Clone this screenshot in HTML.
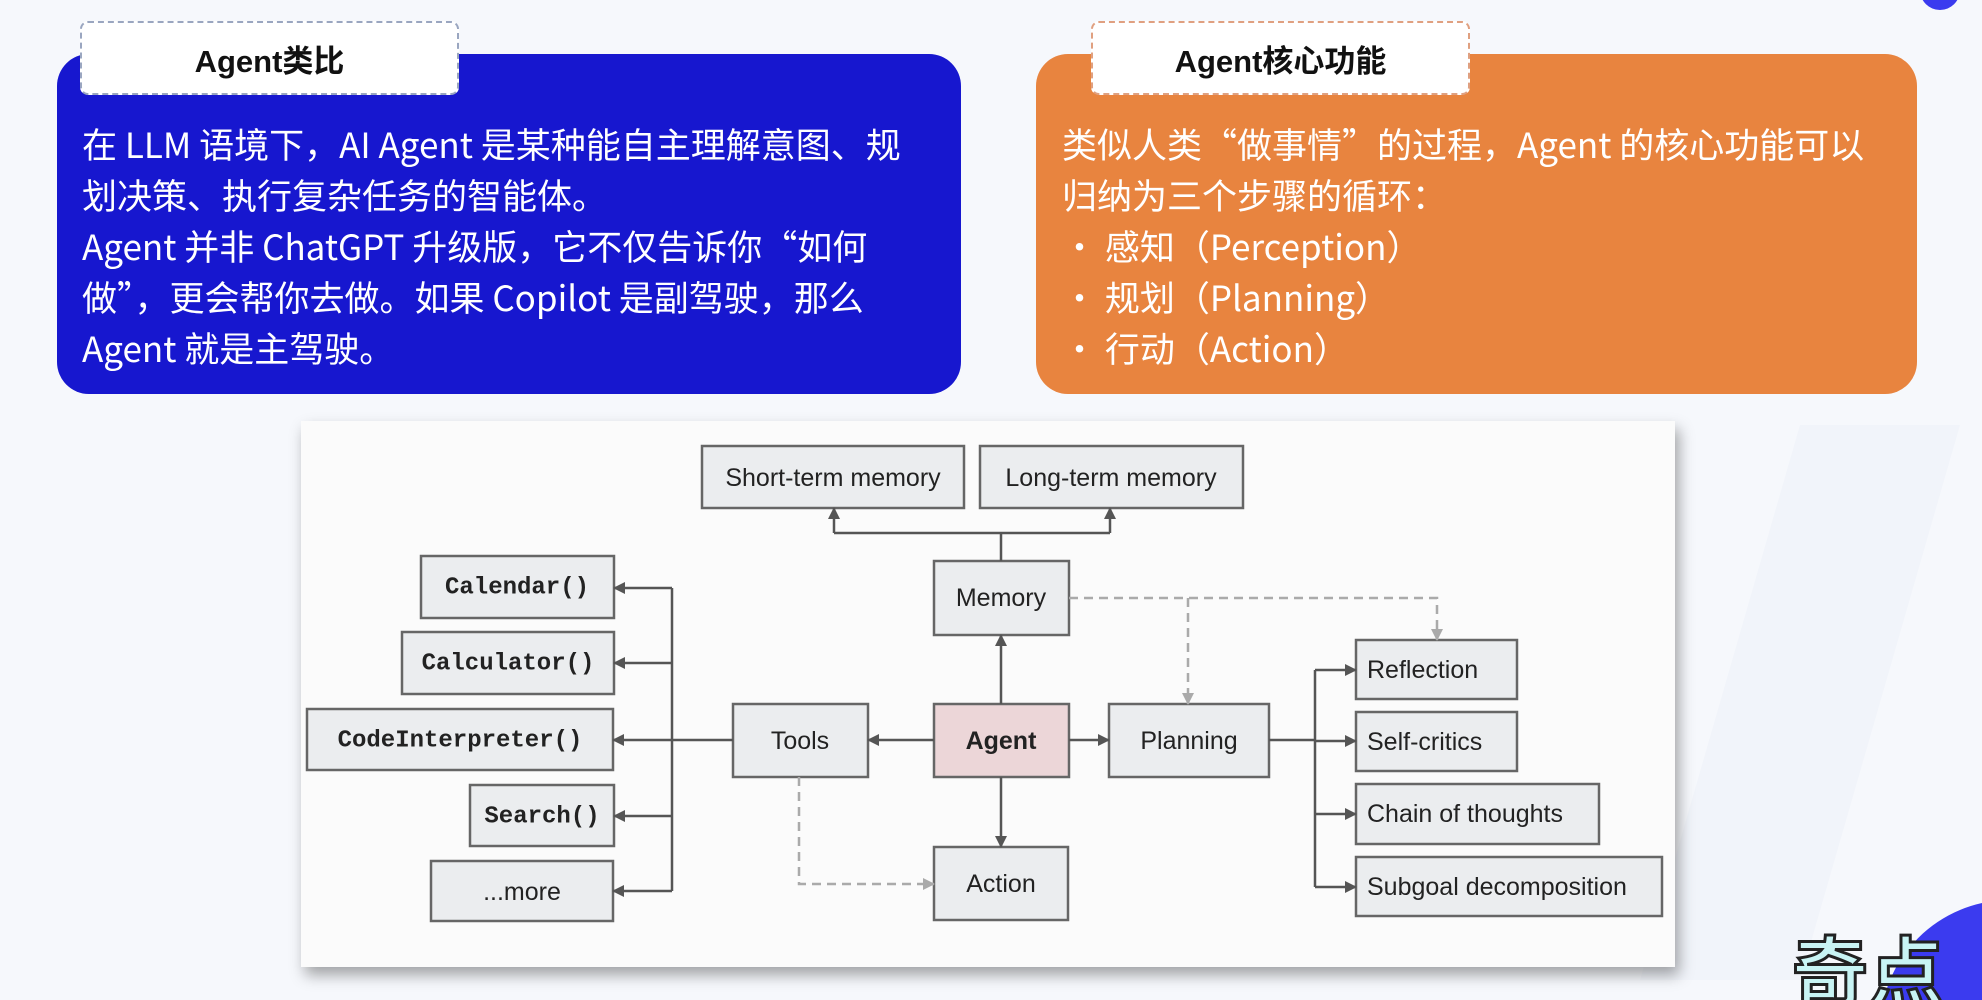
<!DOCTYPE html>
<html><head><meta charset="utf-8"><style>
html,body{margin:0;width:1982px;height:1000px;overflow:hidden}
#w{position:relative;width:1982px;height:1000px;overflow:hidden;background:#f6f8fc;font-family:"Liberation Sans","Noto Sans CJK SC",sans-serif}
.card{position:absolute;border-radius:32px}
.tab{position:absolute;background:#fff;border:2px dashed #9aa6c0;border-radius:8px;font-weight:bold;font-size:31px;color:#111;display:flex;align-items:center;justify-content:center;box-sizing:border-box}
.txt{position:absolute;color:#fff;font-size:35px;line-height:51px;white-space:nowrap;font-family:"Noto Sans CJK SC",sans-serif}
</style></head><body><div id="w">
<svg style="position:absolute;left:0;top:0" width="1982" height="1000">
<polygon points="1800,425 1960,425 1800,980 1640,980" fill="#eef1f8" opacity=".6"/>
<circle cx="2010" cy="1030" r="130" fill="#3b3bef"/>
<circle cx="1940" cy="-10" r="20" fill="#3b3bef"/>
<text x="1792" y="1000" font-family="Noto Sans CJK SC,sans-serif" font-size="76" font-weight="bold" fill="#c8f4f4" stroke="#222" stroke-width="3">奇点</text>
</svg>

<div class="card" style="left:57px;top:54px;width:904px;height:340px;background:#1717cf"></div>
<div class="tab" style="left:80px;top:21px;width:379px;height:74px">Agent类比</div>
<div class="txt" style="left:82px;top:118px">在 LLM 语境下，AI Agent 是某种能自主理解意图、规<br>划决策、执行复杂任务的智能体。<br>Agent 并非 ChatGPT 升级版，它不仅告诉你“如何<br>做”，更会帮你去做。如果 Copilot 是副驾驶，那么<br>Agent 就是主驾驶。</div>

<div class="card" style="left:1036px;top:54px;width:881px;height:340px;background:#e8843f"></div>
<div class="tab" style="left:1091px;top:21px;width:379px;height:74px;border-color:#e0a080">Agent核心功能</div>
<div class="txt" style="left:1062px;top:118px">类似人类“做事情”的过程，Agent 的核心功能可以<br>归纳为三个步骤的循环：<br>•&nbsp;感知（Perception）<br>•&nbsp;规划（Planning）<br>•&nbsp;行动（Action）</div>

<div style="position:absolute;left:301px;top:421px;width:1374px;height:546px;background:#fbfbfb;box-shadow:4px 8px 14px rgba(0,0,0,.35)"></div>
<svg style="position:absolute;left:0;top:0" width="1982" height="1000">
<defs>
<marker id="a" markerWidth="12" markerHeight="12" refX="11" refY="6" orient="auto" markerUnits="userSpaceOnUse"><path d="M0,0L12,6L0,12z" fill="#555"/></marker>
<marker id="b" markerWidth="12" markerHeight="12" refX="11" refY="6" orient="auto" markerUnits="userSpaceOnUse"><path d="M0,0L12,6L0,12z" fill="#aaa"/></marker>
</defs>
<g fill="#ebedef" stroke="#666" stroke-width="2.5">
<rect x="702" y="446" width="262" height="62"/><rect x="980" y="446" width="263" height="62"/>
<rect x="934" y="561" width="135" height="74"/>
<rect x="421" y="556" width="193" height="62"/><rect x="402" y="632" width="212" height="62"/>
<rect x="307" y="709" width="306" height="61"/><rect x="470" y="785" width="144" height="61"/>
<rect x="431" y="861" width="182" height="60"/>
<rect x="733" y="704" width="135" height="73"/>
<rect x="934" y="704" width="135" height="73" fill="#ecd6d8"/>
<rect x="1109" y="704" width="160" height="73"/>
<rect x="934" y="847" width="134" height="73"/>
<rect x="1356" y="640" width="161" height="59"/><rect x="1356" y="712" width="161" height="59"/>
<rect x="1356" y="784" width="243" height="60"/><rect x="1356" y="857" width="306" height="59"/>
</g>
<g stroke="#555" stroke-width="2.5" fill="none">
<path d="M1001,561V533M834,533H1110"/>
<path d="M834,533V508" marker-end="url(#a)"/><path d="M1110,533V508" marker-end="url(#a)"/>
<path d="M672,588V891M733,740H672"/>
<path d="M672,588H614" marker-end="url(#a)"/><path d="M672,663H614" marker-end="url(#a)"/>
<path d="M672,740H613" marker-end="url(#a)"/><path d="M672,816H614" marker-end="url(#a)"/>
<path d="M672,891H613" marker-end="url(#a)"/>
<path d="M934,740H868" marker-end="url(#a)"/><path d="M1069,740H1109" marker-end="url(#a)"/>
<path d="M1001,704V635" marker-end="url(#a)"/><path d="M1001,777V847" marker-end="url(#a)"/>
<path d="M1269,740H1315M1315,670V887"/>
<path d="M1315,670H1356" marker-end="url(#a)"/><path d="M1315,741H1356" marker-end="url(#a)"/>
<path d="M1315,814H1356" marker-end="url(#a)"/><path d="M1315,887H1356" marker-end="url(#a)"/>
</g>
<g stroke="#aaa" stroke-width="2.5" fill="none" stroke-dasharray="9,6">
<path d="M1069,598H1437V640" marker-end="url(#b)"/>
<path d="M1188,598V704" marker-end="url(#b)"/>
<path d="M799,777V884H934" marker-end="url(#b)"/>
</g>
<g font-family="Liberation Sans,sans-serif" font-size="25" fill="#222" text-anchor="middle" dominant-baseline="central">
<text x="833" y="478">Short-term memory</text><text x="1111" y="478">Long-term memory</text>
<text x="1001" y="598">Memory</text><text x="800" y="741">Tools</text>
<text x="1001" y="741" font-weight="bold">Agent</text><text x="1189" y="741">Planning</text>
<text x="1001" y="884">Action</text><text x="522" y="892">...more</text>
<g text-anchor="start"><text x="1367" y="670">Reflection</text><text x="1367" y="742">Self-critics</text>
<text x="1367" y="814">Chain of thoughts</text><text x="1367" y="887">Subgoal decomposition</text></g>
<g font-family="Liberation Mono,monospace" font-weight="bold" font-size="24">
<text x="517" y="588">Calendar()</text><text x="508" y="664">Calculator()</text>
<text x="460" y="741">CodeInterpreter()</text><text x="542" y="817">Search()</text></g>
</g>
</svg>
</div></body></html>
